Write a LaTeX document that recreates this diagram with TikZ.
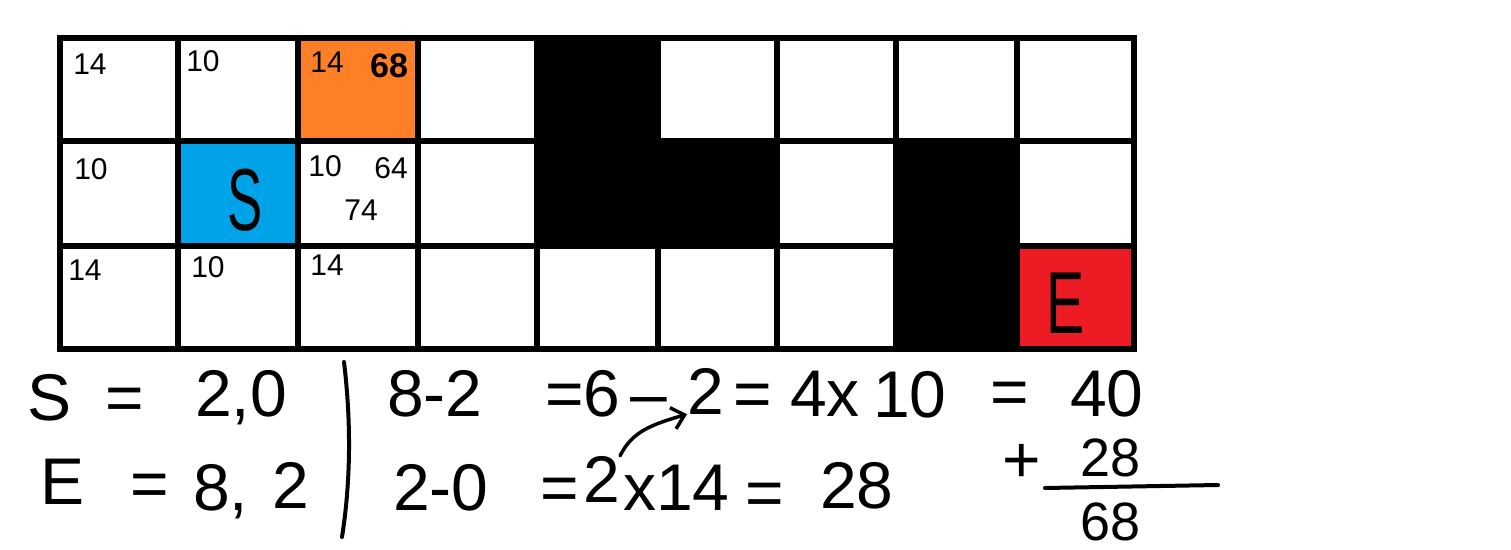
\documentclass[tikz,border=0pt]{standalone}
\usepackage{fontspec}
\setmainfont{Liberation Sans}
\usetikzlibrary{arrows.meta}
\definecolor{paintorange}{HTML}{FF7F27}
\definecolor{paintblue}{HTML}{00A2E8}
\definecolor{paintred}{HTML}{ED1C24}
\begin{document}
\begin{tikzpicture}[x=1pt,y=-1pt,
  hw/.style={font=\fontsize{66}{70}\selectfont, inner sep=0pt, anchor=base west},
  hwsum/.style={font=\fontsize{54}{58}\selectfont, inner sep=0pt, anchor=base west},
  lab/.style={font=\fontsize{30}{32}\selectfont, inner sep=0pt},
  biglab/.style={font=\fontsize{88}{90}\selectfont, inner sep=0pt},
  gridline/.style={line width=6pt, line cap=rect},
  pen/.style={line width=4pt, line cap=round},
  arr/.style={line width=3.5pt, line cap=round, -{Straight Barb[length=12pt,width=22pt]}}]
\useasboundingbox[fill=white] (0,0) rectangle (1511,549);
% coloured and blocked cells
\fill[paintorange] (298,38) rectangle (418,141);
\fill[paintblue] (178,141) rectangle (298,246);
\fill[paintred] (1017,246) rectangle (1134,349);
\fill[black] (537,38) rectangle (658,141);
\fill[black] (537,141) rectangle (777,246);
\fill[black] (896,141) rectangle (1017,349);
% grid
\foreach \x in {60,178,298,418,537,658,777,896,1017,1134}
  \draw[gridline] (\x,38) -- (\x,349);
\foreach \y in {38,141,246,349}
  \draw[gridline] (60,\y) -- (1134,\y);
% cell labels
\node[lab] (c00) at (90,64) {14};
\node[lab] (c10) at (203,61) {10};
\node[lab] (c20a) at (327,62) {14};
\node[lab, font=\fontsize{34}{36}\selectfont\bfseries] (c20b) at (389,66) {68};
\node[lab] (c01) at (91,169) {10};
\node[lab] (c21a) at (325,166) {10};
\node[lab] (c21b) at (391,168) {64};
\node[lab] (c21c) at (361,210) {74};
\node[lab] (c02) at (85,270) {14};
\node[lab] (c12) at (208,267) {10};
\node[lab] (c22) at (327,265) {14};
\node[biglab] (start) at (245,200) {\scalebox{0.6}[1]{S}};
\node[biglab] (goal) at (1066,303) {\scalebox{0.65}[1]{E}};
% notes, line 1
\node[hw] (s1) at (27,420) {S};
\node[hw] (s2) at (105,420) {=};
\node[hw] (s3) at (195,416) {2,0};
\node[hw] (r1a) at (387,416) {8-2};
\node[hw] (r1b) at (545,416) {=6};
\node[hw] (r1c) at (630,416) {–};
\node[hw] (l1b) at (687,414) {2};
\node[hw] (r1d) at (733,416) {=};
\node[hw] (r1e) at (790,416) {4x};
\node[hw] (r1f) at (873,417) {10};
\node[hw] (r1g) at (990,414) {=};
\node[hw] (r1h) at (1070,416) {40};
% notes, line 2
\node[hw] (e1) at (40,504) {E};
\node[hw] (e2) at (130,506) {=};
\node[hw] (e3) at (193,510) {8,};
\node[hw] (e4) at (272,508) {2};
\node[hw] (r2a) at (393,510) {2-0};
\node[hw] (r2b) at (540,510) {=};
\node[hw] (l2b) at (583,502) {2};
\node[hw] (r2c) at (623,510) {x14};
\node[hw] (r2d) at (745,515) {=};
\node[hw] (r2e) at (820,508) {28};
% sum
\node[hw] (p1) at (1002,482) {+};
\node[hwsum] (p2) at (1080,476) {28};
\draw[pen] (1045,488) -- (1218,485);
\node[hwsum] (p3) at (1080,540) {68};
% separator
\draw[pen] (344,362) .. controls (351,420) and (351,480) .. (342,537);
% arrow
\draw[arr] (l2b.north east) .. controls (632,432) and (650,425) .. (l1b.south west);
\end{tikzpicture}
\end{document}
